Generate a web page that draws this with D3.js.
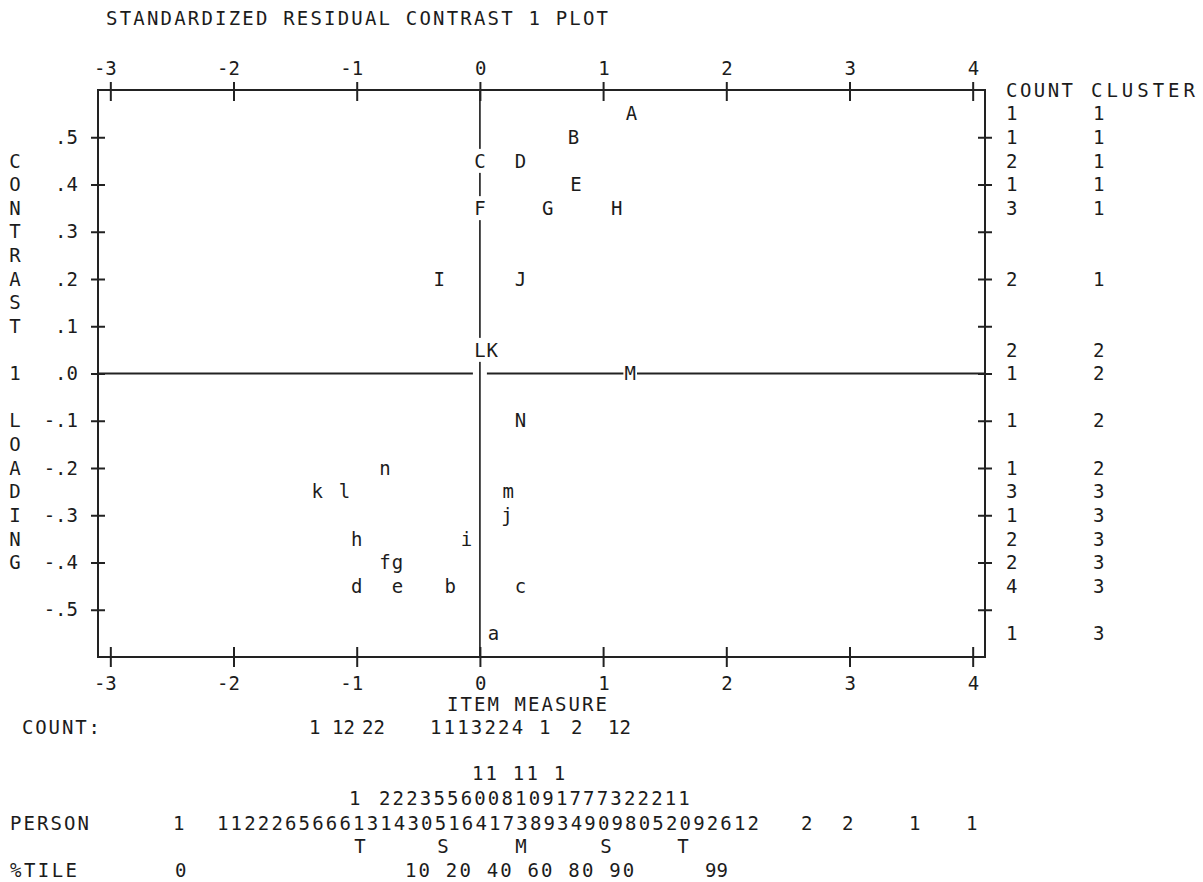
<!DOCTYPE html>
<html>
<head>
<meta charset="utf-8">
<script src="https://cdn.jsdelivr.net/npm/d3@7"></script>
<style>
  body { margin: 0; background: #fff; }
  text { font-family: "DejaVu Sans Mono", monospace; font-size: 19px; fill: #1c1c1c; }
</style>
</head>
<body>
<script>
// chart texts
var titleText = "STANDARDIZED RESIDUAL CONTRAST 1 PLOT";
var xTitle = "ITEM MEASURE";
var yTitleTop = "CONTRAST";
var yTitleMid = "1";
var yTitleBottom = "LOADING";

// item letters: measure (x) and contrast loading (y)
var itemLabel   = ["A", "B", "C", "D", "E", "F", "G", "H", "I", "J", "L", "K", "M", "N",
                   "n", "k", "l", "m", "j", "h", "i", "f", "g", "d", "e", "b", "c", "a"];
var itemMeasure = [1.23, 0.76, 0.00, 0.33, 0.78, 0.00, 0.55, 1.11, -0.33, 0.33, 0.00, 0.10, 1.22, 0.33,
                   -0.77, -1.32, -1.10, 0.23, 0.22, -1.00, -0.11, -0.77, -0.67, -1.00, -0.67, -0.24, 0.33, 0.11];
var itemLoading = [0.55, 0.50, 0.45, 0.45, 0.40, 0.35, 0.35, 0.35, 0.20, 0.20, 0.05, 0.05, 0.00, -0.10,
                   -0.20, -0.25, -0.25, -0.25, -0.30, -0.35, -0.35, -0.40, -0.40, -0.45, -0.45, -0.45, -0.45, -0.55];

// right-hand COUNT / CLUSTER columns, one entry per plotted row
var rowLoading = [0.55, 0.50, 0.45, 0.40, 0.35, 0.20, 0.05, 0.00, -0.10, -0.20, -0.25, -0.30, -0.35, -0.40, -0.45, -0.55];
var rowCount   = [1, 1, 2, 1, 3, 2, 2, 1, 1, 1, 3, 1, 2, 2, 4, 1];
var rowCluster = [1, 1, 1, 1, 1, 1, 2, 2, 2, 2, 3, 3, 3, 3, 3, 3];

var xTicks = [-3, -2, -1, 0, 1, 2, 3, 4];
var yTicks = [0.5, 0.4, 0.3, 0.2, 0.1, 0, -0.1, -0.2, -0.3, -0.4, -0.5];

// distribution lines under the plot
var countLabel  = "COUNT:";
var countTokens = ["1", "12", "22", "1113224", "1", "2", "12"];
var personLabel = "PERSON";
var personRow1  = ["11 11 1"];
var personRow2  = ["1", "22235560081091777322211"];
var personRow3  = ["1", "1122265666131430516417389349098052092612", "2", "2", "1", "1"];
var personMarks = ["T", "S", "M", "S", "T"];
var tileLabel   = "%TILE";
var tileTokens  = ["0", "10 20 40 60 80 90", "99"];

var W = 1203, H = 882;
var P = 13.6;  // character pitch

var svg = d3.select("body").append("svg")
  .attr("width", W)
  .attr("height", H);

var x = d3.scaleLinear().domain([-3.1, 4.1]).range([98, 985]);
var y = d3.scaleLinear().domain([-0.6, 0.6]).range([657, 90]);

var fmtY = function(d) {
  var v = Math.round(Math.abs(d) * 10);
  return (d < 0 ? "-" : "") + "." + v;
};

// title
svg.append("text")
  .attr("x", 106).attr("y", 18).attr("dy", "0.35em")
  .attr("textLength", 502).attr("lengthAdjust", "spacing")
  .text(titleText);

// frame
svg.append("rect")
  .attr("x", x(-3.1)).attr("y", y(0.6))
  .attr("width", x(4.1) - x(-3.1)).attr("height", y(-0.6) - y(0.6))
  .attr("fill", "none").attr("stroke", "#222").attr("stroke-width", 2);

// zero lines
svg.append("line")
  .attr("x1", x(0)).attr("x2", x(0)).attr("y1", y(0.6)).attr("y2", y(-0.6))
  .attr("stroke", "#333").attr("stroke-width", 1.8);
svg.append("line")
  .attr("x1", x(-3.1)).attr("x2", x(0) - 7).attr("y1", y(0)).attr("y2", y(0))
  .attr("stroke", "#222").attr("stroke-width", 2);
svg.append("line")
  .attr("x1", x(0) + 7).attr("x2", x(4.1)).attr("y1", y(0)).attr("y2", y(0))
  .attr("stroke", "#222").attr("stroke-width", 2);

// axes
function styleAxis(g) {
  g.select(".domain").remove();
  g.attr("font-family", null).attr("font-size", null);
  g.selectAll(".tick line").attr("stroke", "#222").attr("stroke-width", 2);
  g.selectAll(".tick text").attr("fill", "#1c1c1c");
}

var gTop = svg.append("g").attr("transform", "translate(0," + y(0.6) + ")")
  .call(d3.axisTop(x).tickValues(xTicks).tickSize(8).tickPadding(7).tickFormat(String))
  .call(styleAxis);
gTop.selectAll(".tick line").attr("y1", 11);
gTop.selectAll(".tick text").attr("text-anchor", "end").attr("x", 6);

var gBottom = svg.append("g").attr("transform", "translate(0," + y(-0.6) + ")")
  .call(d3.axisBottom(x).tickValues(xTicks).tickSize(10).tickPadding(10).tickFormat(String))
  .call(styleAxis);
gBottom.selectAll(".tick line").attr("y1", -10);
gBottom.selectAll(".tick text").attr("text-anchor", "end").attr("x", 6);

var gLeft = svg.append("g").attr("transform", "translate(" + x(-3.1) + ",0)")
  .call(d3.axisLeft(y).tickValues(yTicks).tickSize(7).tickPadding(13).tickFormat(fmtY))
  .call(styleAxis);
gLeft.selectAll(".tick line").attr("x1", 7);

var gRight = svg.append("g").attr("transform", "translate(" + x(4.1) + ",0)")
  .call(d3.axisRight(y).tickValues(yTicks).tickSize(7).tickFormat(""))
  .call(styleAxis);
gRight.selectAll(".tick line").attr("x1", -7);

// vertical y title, one letter per plot row
var yTitleRows = [];
yTitleTop.split("").forEach(function(c, i) { yTitleRows.push({ c: c, v: 0.45 - i * 0.05 }); });
yTitleRows.push({ c: yTitleMid, v: 0 });
yTitleBottom.split("").forEach(function(c, i) { yTitleRows.push({ c: c, v: -0.10 - i * 0.05 }); });

svg.selectAll("text.ytitle")
  .data(yTitleRows)
  .enter()
  .append("text")
  .attr("class", "ytitle")
  .attr("x", 15)
  .attr("y", function(d) { return y(d.v); })
  .attr("dy", "0.35em")
  .attr("text-anchor", "middle")
  .text(function(d) { return d.c; });

// plotted item letters, each on its own white cell
var items = itemLabel.map(function(l, i) {
  return { label: l, mx: itemMeasure[i], ld: itemLoading[i] };
});

var cells = svg.selectAll("g.item")
  .data(items)
  .enter()
  .append("g")
  .attr("class", "item")
  .attr("transform", function(d) {
    return "translate(" + x(d.mx) + "," + y(d.ld) + ")";
  });

cells.append("rect")
  .attr("x", -P / 2)
  .attr("y", -12)
  .attr("width", P)
  .attr("height", 24)
  .attr("fill", "#fff");

cells.append("text")
  .attr("text-anchor", "middle")
  .attr("dy", "0.35em")
  .text(function(d) { return d.label; });

// right columns
svg.append("text").attr("x", 1006).attr("y", y(0.6)).attr("dy", "0.35em")
  .attr("textLength", 67).attr("lengthAdjust", "spacing").text("COUNT");
svg.append("text").attr("x", 1091).attr("y", y(0.6)).attr("dy", "0.35em")
  .attr("textLength", 104).attr("lengthAdjust", "spacing").text("CLUSTER");

svg.selectAll("text.rcount")
  .data(rowLoading)
  .enter()
  .append("text")
  .attr("class", "rcount")
  .attr("x", 1006)
  .attr("y", function(d) { return y(d); })
  .attr("dy", "0.35em")
  .text(function(d, i) { return rowCount[i]; });

svg.selectAll("text.rcluster")
  .data(rowLoading)
  .enter()
  .append("text")
  .attr("class", "rcluster")
  .attr("x", 1093)
  .attr("y", function(d) { return y(d); })
  .attr("dy", "0.35em")
  .text(function(d, i) { return rowCluster[i]; });

// x title
svg.append("text").attr("x", 447).attr("y", 704).attr("dy", "0.35em")
  .attr("textLength", 160).attr("lengthAdjust", "spacing").text(xTitle);

// helper for the text lines below the plot
function putText(str, left, cy, anchor) {
  var t = svg.append("text")
    .attr("x", left).attr("y", cy).attr("dy", "0.35em")
    .attr("text-anchor", anchor || "start")
    .text(str);
  if (str.length > 2 && !anchor) {
    t.attr("textLength", str.length * P - 2).attr("lengthAdjust", "spacing");
  }
  return t;
}

putText(countLabel, 22, 727).attr("textLength", 78);
var countLeft = [309, 332, 362, 430, 539, 571, 608];
countTokens.forEach(function(s, i) { putText(s, countLeft[i], 727); });

putText(personRow1[0], 472, 773);

var row2Left = [349, 379];
personRow2.forEach(function(s, i) { putText(s, row2Left[i], 798); });

putText(personLabel, 10, 823).attr("textLength", 79);
var row3Left = [173, 217, 801, 842, 909, 966];
personRow3.forEach(function(s, i) { putText(s, row3Left[i], 823); });

var markCenter = [360, 443, 521, 606, 683];
personMarks.forEach(function(s, i) { putText(s, markCenter[i], 846, "middle"); });

putText(tileLabel, 10, 870).attr("textLength", 67);
var tileLeft = [175, 405, 705];
tileTokens.forEach(function(s, i) { putText(s, tileLeft[i], 870); });
</script>
</body>
</html>
